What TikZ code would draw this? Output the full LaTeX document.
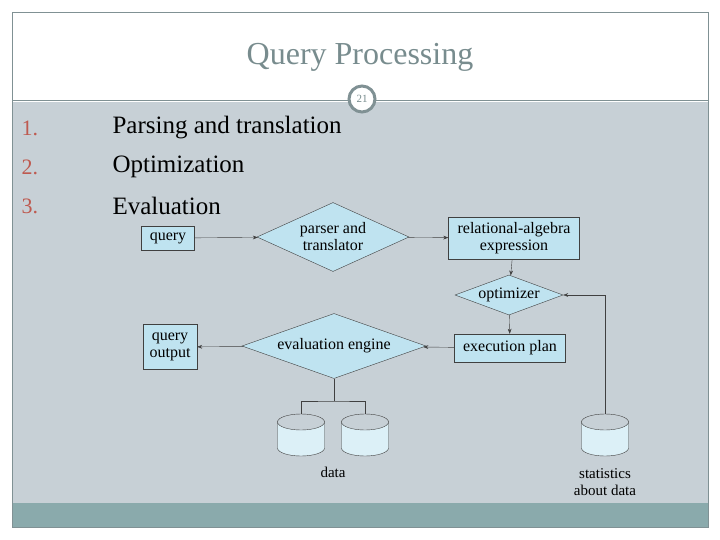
\documentclass[tikz,border=0pt]{standalone}
\usepackage{fontspec}
\setmainfont{Liberation Serif}
\usetikzlibrary{arrows.meta,positioning,shapes.geometric}
\definecolor{slgray}{RGB}{199,208,214}
\definecolor{slbar}{RGB}{138,170,172}
\definecolor{slframe}{RGB}{128,145,148}
\definecolor{sltitle}{RGB}{120,140,142}
\definecolor{slnum}{RGB}{190,90,80}
\definecolor{qpblue}{RGB}{191,227,240}
\tikzset{
  qpbox/.style={draw=black!75, fill=qpblue, inner sep=2pt, font=\fontsize{16}{17}\selectfont, align=center},
  qpdiam/.style={draw=black!75, fill=qpblue, diamond, aspect=#1, inner sep=0pt, font=\fontsize{16}{17}\selectfont, align=center},
  qparr/.style={-{Stealth[length=5pt]}, black!75},
  item/.style={anchor=west, font=\fontsize{25}{25}\selectfont}
}
% database drum: name, x, top y
\newcommand\qpdrum[3]{%
  \filldraw[draw=black!75, fill=qpblue!55!white]
    (#2-23.5,#3-8) arc[start angle=180, end angle=360, x radius=23.5, y radius=8]
    -- (#2+23.5,#3-34) arc[start angle=0, end angle=-180, x radius=23.5, y radius=8] -- cycle;
  \draw[black!75] (#2-23.5,#3-8) arc[start angle=180, end angle=0, x radius=23.5, y radius=8];
  \coordinate (#1) at (#2,#3);
}
\begin{document}
\begin{tikzpicture}[x=1pt,y=1pt]
\useasboundingbox (0,0) rectangle (720,-540);
% --- Slide background ---
\fill[white] (0,0) rectangle (720,-540);
\fill[slgray] (12,-102) rectangle (708,-503);
\fill[slbar] (12,-503) rectangle (708,-527);
\draw[slframe] (12,-12) rectangle (708,-527);
\draw[slframe] (12,-100) -- (708,-100);
\node[font=\fontsize{32}{32}\selectfont, text=sltitle] (title) at (360,-57) {Query Processing};
\node[circle, draw=slframe, line width=3pt, fill=white, minimum size=26pt, inner sep=0pt, font=\fontsize{11}{11}\selectfont, text=sltitle] (pagenum) at (362,-99) {21};
% --- List ---
\foreach \n/\t/\y in {1/Parsing and translation/128, 2/Optimization/167, 3/Evaluation/206}{
  \node[anchor=west, text=slnum, font=\fontsize{22}{22}\selectfont] (num\n) at (18,-\y) {\n.};
  \node[item] (item\n) at (109,-\y) {\t};
}
% --- Diagram nodes ---
\node[qpbox, minimum width=53pt, minimum height=24pt] (query) at (168,-238) {query};
\node[qpdiam=1.9, minimum width=152pt, minimum height=69pt] (parser) at (333,-237) {parser and\\translator};
\node[qpbox, minimum width=131pt, minimum height=42pt] (relalg) at (514,-238) {relational-algebra\\expression};
\node[qpdiam=2.7, minimum width=108pt, minimum height=40pt] (optimizer) at (509,-295) {optimizer};
\node[qpbox, minimum width=111pt, minimum height=28pt] (plan) at (510,-348) {execution plan};
\node[qpdiam=2.8, minimum width=184pt, minimum height=65pt] (engine) at (334,-346) {evaluation engine};
\node[qpbox, minimum width=54pt, minimum height=45pt, inner sep=1pt] (output) at (170,-347) {query\\output};
\qpdrum{data1}{301}{-414}
\qpdrum{data2}{365}{-414}
\qpdrum{stats}{605}{-414}
\node[font=\fontsize{15}{15}\selectfont] (datalbl) at (333,-472) {data};
\node[font=\fontsize{15}{17}\selectfont, align=center] (statslbl) at (605,-482) {statistics\\about data};
\coordinate (split) at (334,-401);
% --- Connectors ---
\draw[qparr] (query) -- (parser);
\draw[qparr] (parser) -- (relalg);
\draw[qparr] (relalg) -- (optimizer);
\draw[qparr] (optimizer) -- (plan);
\draw[qparr] (plan) -- (engine);
\draw[qparr] (engine) -- (output);
\draw[qparr] (stats) |- (optimizer.east);
\draw[black!75] (engine.south) -- (split);
\draw[black!75] (data1) |- (split) -| (data2);
\end{tikzpicture}
\end{document}
